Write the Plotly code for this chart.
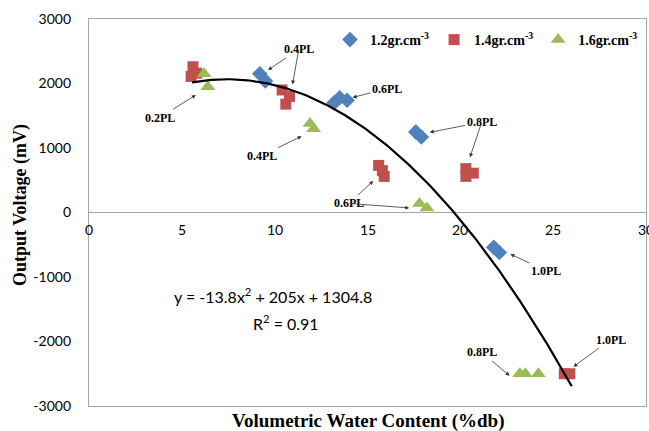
import plotly.graph_objects as go
import numpy as np

# ---------------- data ----------------
series_names = ["1.2gr.cm<sup>-3</sup>", "1.4gr.cm<sup>-3</sup>", "1.6gr.cm<sup>-3</sup>"]

x_12 = [9.2, 9.5, 13.2, 13.5, 13.9, 17.6, 17.9, 21.8, 22.1]
y_12 = [2150, 2040, 1700, 1780, 1740, 1250, 1170, -540, -620]

x_14 = [5.6, 5.5, 5.8, 10.4, 10.8, 10.6, 15.6, 15.8, 15.9, 20.3, 20.7, 20.3, 25.6, 25.9]
y_14 = [2260, 2110, 2160, 1900, 1800, 1680, 730, 650, 560, 680, 610, 560, -2500, -2500]

x_16 = [6.2, 6.4, 11.9, 12.1, 17.8, 18.2, 23.2, 23.5, 24.2]
y_16 = [2150, 1950, 1380, 1300, 140, 70, -2500, -2500, -2500]

fit_coef = [-13.8, 205, 1304.8]   # y = a x^2 + b x + c
fit_x_range = [5.55, 26.0]
fit_label = "y = -13.8x<sup>2</sup> + 205x + 1304.8"
r2_label = "R<sup>2</sup> = 0.91"

x_ticks = [0, 5, 10, 15, 20, 25, 30]
y_ticks = [-3000, -2000, -1000, 0, 1000, 2000, 3000]

# PL labels: text, label position (x, y), arrow targets
pl_labels = [
    ("0.2PL", (3.8, 1470), [(5.8, 1830)]),
    ("0.4PL", (11.3, 2530), [(9.6, 2200), (10.95, 1970)]),
    ("0.6PL", (16.05, 1920), [(14.15, 1780)]),
    ("0.4PL", (9.3, 880), [(11.5, 1190)]),
    ("0.8PL", (21.15, 1400), [(18.3, 1240), (20.5, 840)]),
    ("0.6PL", (14.0, 140), [(15.35, 500), (17.3, 70)]),
    ("1.0PL", (24.6, -900), [(22.65, -640)]),
    ("1.0PL", (28.1, -1970), [(26.05, -2400)]),
    ("0.8PL", (21.15, -2170), [(22.7, -2540)]),
]

# ---------------- styles ----------------
BLUE = "#4F81BD"
RED = "#C0504D"
GREEN = "#9BBB59"
SERIF = "Liberation Serif"
SANS = "Lato"

W, H = 649, 431
L, R, T, B = 89, 646, 19, 406


def px_to_paper(px, py):
    return (px - L) / (R - L), (B - py) / (B - T)


fig = go.Figure()
fig.add_trace(go.Scatter(x=x_12, y=y_12, mode="markers", name=series_names[0],
                         marker=dict(symbol="diamond", size=12, color=BLUE)))
fig.add_trace(go.Scatter(x=x_14, y=y_14, mode="markers", name=series_names[1],
                         marker=dict(symbol="square", size=11, color=RED)))
fig.add_trace(go.Scatter(x=x_16, y=y_16, mode="markers", name=series_names[2],
                         marker=dict(symbol="triangle-up", size=13, color=GREEN)))

fx = np.linspace(fit_x_range[0], fit_x_range[1], 200)
fy = fit_coef[0] * fx**2 + fit_coef[1] * fx + fit_coef[2]
fig.add_trace(go.Scatter(x=fx, y=fy, mode="lines", showlegend=False,
                         line=dict(color="black", width=2.2), hoverinfo="skip"))

annotations = []
for text, (lx, ly), targets in pl_labels:
    for i, (tx, ty) in enumerate(targets):
        annotations.append(dict(
            x=tx, y=ty, xref="x", yref="y", ax=lx, ay=ly, axref="x", ayref="y",
            text=text if i == 0 else "", showarrow=True, arrowhead=2, arrowsize=1,
            arrowwidth=0.8, arrowcolor="#333333",
            font=dict(family=SERIF, size=12, color="black", weight="bold"),
            standoff=1, startstandoff=0))

# x tick labels placed just below the y=0 line
for xv in x_ticks:
    annotations.append(dict(x=xv, y=0, xref="x", yref="y", text=str(xv), showarrow=False,
                            xanchor="center", yanchor="top", yshift=-6,
                            font=dict(family=SANS, size=14, color="black")))

ex, ey = px_to_paper(273, 295)
annotations.append(dict(x=ex, y=ey, xref="paper", yref="paper", text=fit_label, showarrow=False,
                        xanchor="center", yanchor="middle",
                        font=dict(family=SANS, size=16, color="black")))
rx, ry = px_to_paper(286, 322)
annotations.append(dict(x=rx, y=ry, xref="paper", yref="paper", text=r2_label, showarrow=False,
                        xanchor="center", yanchor="middle",
                        font=dict(family=SANS, size=16, color="black")))

xt_x, xt_y = px_to_paper(368, 421)
annotations.append(dict(x=xt_x, y=xt_y, xref="paper", yref="paper",
                        text="<b>Volumetric Water Content (%db)</b>", showarrow=False,
                        xanchor="center", yanchor="middle",
                        font=dict(family=SERIF, size=19, color="black")))
yt_x, yt_y = px_to_paper(20, 205)
annotations.append(dict(x=yt_x, y=yt_y, xref="paper", yref="paper", textangle=-90,
                        text="<b>Output Voltage (mV)</b>", showarrow=False,
                        xanchor="center", yanchor="middle",
                        font=dict(family=SERIF, size=18, color="black")))

lg_x, lg_y = px_to_paper(643, 40)

fig.update_layout(
    width=W, height=H,
    margin=dict(l=L, r=W - R, t=T, b=H - B, pad=0, autoexpand=False),
    paper_bgcolor="white", plot_bgcolor="white",
    showlegend=True,
    legend=dict(orientation="h", x=lg_x, y=lg_y, xanchor="right", yanchor="middle",
                font=dict(family=SERIF, size=14, color="black", weight="bold"),
                bgcolor="rgba(0,0,0,0)", itemwidth=30, tracegroupgap=0),
    xaxis=dict(range=[0, 30], tickvals=x_ticks, showticklabels=False, showgrid=False,
               zeroline=False, showline=True, mirror=True, linecolor="#A6A6A6", linewidth=1.3,
               ticks=""),
    yaxis=dict(range=[-3000, 3000], tickvals=y_ticks, ticktext=[str(v) for v in y_ticks],
               showgrid=False, zeroline=True,
               zerolinecolor="#A6A6A6", zerolinewidth=1.3,
               showline=True, mirror=True, linecolor="#A6A6A6", linewidth=1.3,
               ticks="", ticklabelstandoff=14,
               tickfont=dict(family=SANS, size=14, color="black")),
    annotations=annotations,
)

fig.write_html("out.html")
